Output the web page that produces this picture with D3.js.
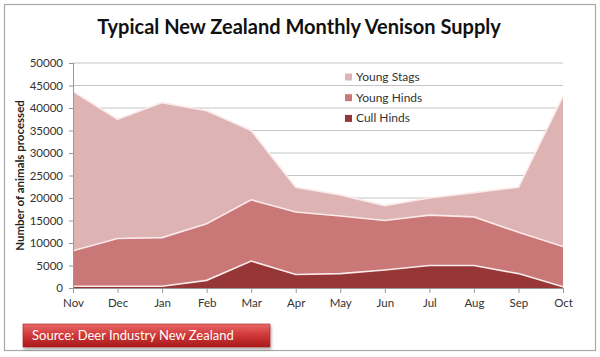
<!DOCTYPE html>
<html>
<head>
<meta charset="utf-8">
<script src="https://cdn.jsdelivr.net/npm/d3@7"></script>
<style>
  body { margin: 0; background: #fff; }
  svg { display: block; font-family: Lato, "Open Sans", sans-serif; }
</style>
</head>
<body>
<svg id="svg" width="600" height="357"></svg>
<script>
var months = ["Nov", "Dec", "Jan", "Feb", "Mar", "Apr", "May", "Jun", "Jul", "Aug", "Sep", "Oct"];
var cullHinds = [400, 400, 400, 1700, 6000, 3000, 3200, 4000, 5000, 5000, 3200, 300];
var youngHinds = [7900, 10600, 10800, 12600, 13600, 13900, 12800, 11000, 11200, 10800, 9200, 8900];
var youngStags = [35400, 26500, 30000, 25100, 15400, 5500, 4700, 3300, 3800, 5400, 10000, 33400];
var yTicks = [0, 5000, 10000, 15000, 20000, 25000, 30000, 35000, 40000, 45000, 50000];
var seriesNames = ["Cull Hinds", "Young Hinds", "Young Stags"];
var colors = { "Cull Hinds": "#963636", "Young Hinds": "#c97777", "Young Stags": "#ddb3b3" };

var svg = d3.select("#svg");
var padding = { top: 63, right: 37, bottom: 69, left: 73 };
var chartArea = { width: 600 - padding.left - padding.right, height: 357 - padding.top - padding.bottom };

var rows = months.map(function (m, i) {
  return { month: m, "Cull Hinds": cullHinds[i], "Young Hinds": youngHinds[i], "Young Stags": youngStags[i] };
});
var stacked = d3.stack().keys(seriesNames)(rows);

var xScale = d3.scalePoint().domain(months).range([0, chartArea.width]);
var yScale = d3.scaleLinear().domain([0, 50000]).range([chartArea.height, 0]);

// outer frame
svg.append("rect").attr("x", 4.5).attr("y", 4.5).attr("width", 591).attr("height", 346)
  .attr("fill", "#fff").attr("stroke", "#a8a8a8").attr("stroke-width", 1.2);

// title
var title = svg.append("text").attr("x", 299).attr("y", 34).attr("text-anchor", "middle")
  .attr("font-weight", "bold").attr("font-size", 20).attr("fill", "#111")
  .text("Typical New Zealand Monthly Venison Supply");
var tw = title.node().getComputedTextLength();
title.attr("font-size", 20 * 404 / tw);

var plot = svg.append("g").attr("transform", "translate(" + padding.left + "," + padding.top + ")");

// grid
plot.append("g").selectAll("line").data(yTicks.slice(1)).enter().append("line")
  .attr("x1", 0).attr("x2", chartArea.width)
  .attr("y1", function (d) { return yScale(d); }).attr("y2", function (d) { return yScale(d); })
  .attr("stroke", "#c4c4c4").attr("stroke-width", 1);

// areas
var area = d3.area()
  .x(function (d) { return xScale(d.data.month); })
  .y0(function (d) { return yScale(d[0]); })
  .y1(function (d) { return yScale(d[1]); });
var line = d3.line()
  .x(function (d) { return xScale(d.data.month); })
  .y(function (d) { return yScale(d[1]); });

plot.selectAll(".area").data(stacked).enter().append("path")
  .attr("class", "area").attr("d", area)
  .attr("fill", function (d) { return colors[d.key]; });
plot.selectAll(".edge").data(stacked).enter().append("path")
  .attr("class", "edge").attr("d", line).attr("fill", "none")
  .attr("stroke", "#fbeaea").attr("stroke-width", 1.6);

// y axis
var yAxis = plot.append("g").call(d3.axisLeft(yScale).tickValues(yTicks).tickFormat(d3.format("d")).tickSize(4).tickPadding(6));
yAxis.selectAll("text").attr("font-size", 11.5).attr("fill", "#333").attr("font-family", "Lato, sans-serif");
yAxis.selectAll("line").attr("stroke", "#999");
yAxis.select(".domain").attr("stroke", "#999").attr("d", "M0.5," + chartArea.height + "V0");

// x axis
var xAxis = plot.append("g").attr("transform", "translate(0," + chartArea.height + ")")
  .call(d3.axisBottom(xScale).tickSize(5).tickPadding(6));
xAxis.selectAll("text").attr("font-size", 11.5).attr("fill", "#333").attr("font-family", "Lato, sans-serif");
xAxis.selectAll("line").attr("stroke", "#999");
xAxis.select(".domain").attr("stroke", "#999").attr("d", "M0,0.5H" + chartArea.width);

// y label
svg.append("text").attr("transform", "translate(24," + (padding.top + chartArea.height / 2) + ") rotate(-90)")
  .attr("text-anchor", "middle").attr("font-weight", "bold").attr("font-size", 11.5).attr("fill", "#222")
  .text("Number of animals processed");

// legend
var legend = svg.append("g").attr("transform", "translate(345,77)");
var legendItems = legend.selectAll("g").data(seriesNames.slice().reverse()).enter().append("g")
  .attr("transform", function (d, i) { return "translate(0," + i * 20.7 + ")"; });
legendItems.append("rect").attr("x", 0).attr("y", -3.5).attr("width", 7).attr("height", 7)
  .attr("fill", function (d) { return colors[d]; });
legendItems.append("text").attr("x", 11).attr("y", 4).attr("font-size", 12).attr("fill", "#333")
  .text(function (d) { return d; });

// source box
var defs = svg.append("defs");
var grad = defs.append("linearGradient").attr("id", "srcGrad").attr("x1", 0).attr("y1", 0).attr("x2", 0).attr("y2", 1);
grad.append("stop").attr("offset", "0%").attr("stop-color", "#e86a6a");
grad.append("stop").attr("offset", "45%").attr("stop-color", "#d23a3a");
grad.append("stop").attr("offset", "100%").attr("stop-color", "#a81a1a");
var shadow = defs.append("filter").attr("id", "shadow").attr("x", "-10%").attr("y", "-30%").attr("width", "120%").attr("height", "170%");
shadow.append("feDropShadow").attr("dx", 1).attr("dy", 2).attr("stdDeviation", 1.5).attr("flood-color", "#000").attr("flood-opacity", 0.35);
svg.append("rect").attr("x", 23).attr("y", 324).attr("width", 247).attr("height", 23)
  .attr("fill", "url(#srcGrad)").attr("stroke", "#b02020").attr("stroke-width", 0.6).attr("filter", "url(#shadow)");
svg.append("text").attr("x", 32).attr("y", 340).attr("font-size", 13).attr("fill", "#fff")
  .text("Source: Deer Industry New Zealand");
</script>
</body>
</html>
